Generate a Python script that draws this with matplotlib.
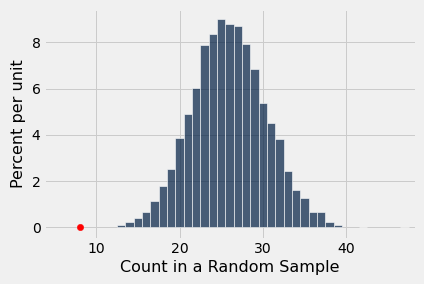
import numpy as np
import matplotlib
matplotlib.use('Agg')
import matplotlib.pyplot as plt

plt.style.use('fivethirtyeight')

# bin centres (counts) and their heights in percent per unit
counts = [13, 14, 15, 16, 17, 18, 19, 20, 21, 22, 23, 24, 25, 26,
          27, 28, 29, 30, 31, 32, 33, 34, 35, 36, 37, 38, 39, 42, 47]
percents = [0.11, 0.25, 0.39, 0.65, 1.12, 1.77, 2.54, 3.85, 4.92, 6.04,
            7.87, 8.35, 9.02, 8.81, 8.69, 7.91, 6.86, 5.39, 4.53, 3.83,
            2.45, 1.63, 1.28, 0.65, 0.65, 0.22, 0.09, 0.03, 0.01]

observed_x = [8]
observed_y = [0]

darkblue = (0.0, 30/256, 66/256)

fig = plt.figure(figsize=(424/72, 284/72), dpi=72)
ax = fig.add_axes([0.1038, 0.1595, 0.8774, 0.8088])

ax.bar(counts, percents, width=1, color=darkblue, alpha=0.7,
       edgecolor='w', linewidth=0.8)
ax.scatter(observed_x, observed_y, color='red', s=40, zorder=3)

ax.set_xlim(3.72, 48.38)
ax.set_ylim(-0.49, 9.44)
ax.set_yticks([0, 2, 4, 6, 8])
ax.set_xticks([10, 20, 30, 40])
ax.set_xlabel('Count in a Random Sample', fontsize=16)
ax.set_ylabel('Percent per unit', fontsize=16, labelpad=6)

fig.savefig('out.png', dpi=72)
